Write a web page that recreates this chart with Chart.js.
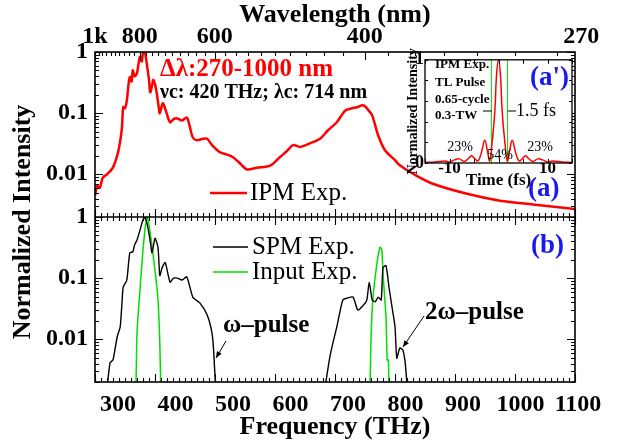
<!DOCTYPE html>
<html>
<head>
<meta charset="utf-8">
<script src="https://cdn.jsdelivr.net/npm/chart.js@4.4.0/dist/chart.umd.min.js"></script>
<style>
body{margin:0;background:#fff;}
#wrap{position:relative;width:620px;height:443px;}
#main{position:absolute;left:0;top:0;}
#inset{position:absolute;left:398px;top:48px;}
</style>
</head>
<body>
<div id="wrap">
<canvas id="main" width="620" height="443"></canvas>
<canvas id="inset" width="182" height="148"></canvas>
</div>
<script>
// ---- data ----
// (a) IPM spectrum, frequency in THz
var ipmFreq = [300,304,308,313,320,330,338,342,345,347,350,353,356,358,361,363,366,370,372,375,378,380,383,387,390,392,395,397,400,403,406,408,413,418,425,431,437,445,453,458,463,470,480,487,495,508,520,530,542,553,570,592,608,620,630,642,658,675,688,703,717,728,737,745,750,756,762,772,783,800,808,830,863,920,975,1030,1100];
var ipmVal  = [0.0045,0.0065,0.006,0.0088,0.01,0.013,0.022,0.035,0.059,0.125,0.12,0.16,0.30,0.39,0.33,0.50,0.40,0.45,0.6,0.83,0.7,0.96,1.0,0.57,0.35,0.22,0.28,0.35,0.3,0.21,0.13,0.10,0.145,0.11,0.071,0.08,0.082,0.076,0.085,0.06,0.040,0.036,0.038,0.038,0.03,0.023,0.021,0.019,0.015,0.012,0.0128,0.0138,0.019,0.024,0.030,0.028,0.032,0.038,0.052,0.071,0.11,0.12,0.125,0.135,0.13,0.11,0.092,0.043,0.025,0.017,0.014,0.0102,0.0070,0.0048,0.0037,0.0032,0.0027];

// (b) SPM spectrum (omega and 2 omega parts)
var spmFreq = [318,325,330,337,342,345,347,353,358,363,366,370,375,380,383,388,392,395,400,405,408,412,417,425,431,437,445,453,463,475,487,495,498,502,
               590,
               680,692,703,713,720,730,738,745,753,757,762,767,772,777,780,785,790,795,800,803,808,813,817,822];
var spmVal  = [0.001,0.0041,0.0046,0.011,0.016,0.04,0.071,0.093,0.26,0.27,0.35,0.42,0.61,0.9,1.0,0.69,0.4,0.26,0.45,0.32,0.11,0.15,0.18,0.086,0.1,0.10,0.093,0.105,0.049,0.039,0.025,0.0126,0.0059,0.001,
               null,
               0.001,0.0055,0.016,0.044,0.047,0.049,0.030,0.034,0.044,0.086,0.044,0.041,0.049,0.044,0.15,0.16,0.071,0.034,0.016,0.0049,0.0072,0.0067,0.0041,0.001];

// (b) input spectrum
var inFreq = [368,370,375,380,384,387,392,400,405,408,410, 590, 758,760,763,770,775,778,780,785,787,789,790];
var inVal  = [0.001,0.0126,0.064,0.29,0.7,1.0,0.55,0.135,0.044,0.0087,0.001, null, 0.001,0.0097,0.044,0.177,0.32,0.29,0.12,0.023,0.0046,0.0046,0.001];

// axes
var freqTicks = [300,400,500,600,700,800,900,1000,1100];
var wlTicks = [1000,800,600,400,270];
var wlLabels = ['1k','800','600','400','270'];

// (a') transform-limited pulse, time in fs
var tlTime = [-15,-13,-11,-10,-9,-8,-7,-6,-5.5,-5,-4.2,-3.5,-2.8,-2.2,-1.8,-1.3,-0.75,-0.4,0,0.4,0.75,1.3,1.8,2.2,2.8,3.5,4.2,5,5.5,6,7,8,9,10,11,13,15];
var tlVal  = [0.005,0.01,0.02,0.01,0.03,0.04,0.015,0.05,0.07,0.05,0.02,0.1,0.22,0.1,0.02,0.2,0.5,0.85,1.0,0.85,0.5,0.2,0.02,0.1,0.22,0.1,0.02,0.05,0.07,0.05,0.015,0.04,0.03,0.01,0.02,0.01,0.005];
var gateTime = [-1.45, 1.85];

var C = 299792.458; // nm*THz
var SERIF = "'Liberation Serif', serif";
Chart.defaults.font.family = SERIF;
Chart.defaults.color = '#000';

function pts(xs, ys){ return xs.map(function(x,i){ return {x:x, y:ys[i]}; }); }
function fixW(w){ return function(s){ s.width = w; }; }
function fixH(h){ return function(s){ s.height = h; }; }
function isDecade(v){ var l = Math.log10(v); return Math.abs(l - Math.round(l)) < 1e-6; }
function decadeLabel(v){
  if (!isDecade(v)) return '';
  var e = Math.round(Math.log10(v));
  return e >= 0 ? '1' : v.toFixed(-e);
}
function logAxis(){
  return {
    type:'logarithmic', position:'left', stack:'panels', stackWeight:1,
    min:0.002, max:1,
    grid:{display:false, drawTicks:false}, border:{display:false},
    ticks:{autoSkip:false, padding:7, font:{size:24, weight:'bold'}, callback:decadeLabel},
    afterFit: fixW(95)
  };
}

function arrow(ctx, x1, y1, x2, y2){
  var a = Math.atan2(y2-y1, x2-x1), h = 7;
  ctx.beginPath(); ctx.moveTo(x1,y1); ctx.lineTo(x2,y2); ctx.stroke();
  ctx.beginPath();
  ctx.moveTo(x2,y2);
  ctx.lineTo(x2 - h*Math.cos(a-0.4), y2 - h*Math.sin(a-0.4));
  ctx.lineTo(x2 - h*Math.cos(a+0.4), y2 - h*Math.sin(a+0.4));
  ctx.closePath(); ctx.fill();
}
function txt(ctx, s, x, y, font, color){
  ctx.font = font; ctx.fillStyle = color || '#000';
  ctx.textAlign = 'left'; ctx.textBaseline = 'middle';
  ctx.fillText(s, x, y);
}
function seg(ctx, x1, y1, x2, y2){ ctx.moveTo(x1, y1); ctx.lineTo(x2, y2); }

var frame = {
  id:'frame',
  afterDraw: function(chart){
    var ctx = chart.ctx, a = chart.chartArea, sx = chart.scales.x;
    var yt = chart.scales.yTop, yb = chart.scales.yBot;
    var L = a.left, R = a.right, T = a.top, B = a.bottom, M = yt.bottom;
    ctx.save();
    ctx.strokeStyle = '#000000'; ctx.fillStyle = '#000000';

    // inward ticks
    ctx.lineWidth = 1.1;
    ctx.beginPath();
    for (var f = 300; f <= 1100; f += 10){
      var px = Math.round(sx.getPixelForValue(f)) + 0.5, len = (f % 100 === 0) ? 8 : 4;
      seg(ctx, px, B, px, B - len);
      seg(ctx, px, M, px, M - len);
      seg(ctx, px, M, px, M + len);
    }
    for (var w = 280; w <= 1000; w += 20){
      var pw = Math.round(sx.getPixelForValue(C/w)) + 0.5, lw = (w % 200 === 0) ? 8 : 4;
      seg(ctx, pw, T, pw, T + lw);
    }
    [yt, yb].forEach(function(s){
      for (var e = -3; e <= 0; e++){
        for (var m = 1; m <= 9; m++){
          var v = m*Math.pow(10, e);
          if (v < 0.002 - 1e-9 || v > 1 + 1e-9) continue;
          var py = Math.round(s.getPixelForValue(v)) + 0.5, l = (m === 1) ? 8 : 4;
          seg(ctx, L, py, L + l, py);
          seg(ctx, R, py, R - l, py);
        }
      }
    });
    ctx.stroke();

    // frame and panel divider
    ctx.lineWidth = 1.6;
    ctx.strokeRect(L, T, R - L, B - T);
    ctx.beginPath(); seg(ctx, L, M, R, M); ctx.stroke();

    // y title
    ctx.save();
    ctx.translate(23, (T + B)/2 + 5);
    ctx.rotate(-Math.PI/2);
    ctx.font = 'bold 26px ' + SERIF; ctx.textAlign = 'center'; ctx.textBaseline = 'middle';
    ctx.fillText('Normalized Intensity', 0, 0);
    ctx.restore();

    // panel (a) annotations
    txt(ctx, '\u0394\u03bb:270-1000 nm', 160, 70, 'bold 25px ' + SERIF, '#ff0000');
    txt(ctx, '\u03bdc: 420 THz; \u03bbc: 714 nm', 160, 93, 'bold 20px ' + SERIF);
    ctx.lineWidth = 2.5; ctx.strokeStyle = '#ff0000';
    ctx.beginPath(); seg(ctx, 210, 193, 247, 193); ctx.stroke();
    txt(ctx, 'IPM Exp.', 250, 193, '25px ' + SERIF);
    txt(ctx, '(a)', 528, 189, 'bold 27px ' + SERIF, '#1a1aee');

    // panel (b) annotations
    ctx.lineWidth = 1.5;
    ctx.strokeStyle = '#000000';
    ctx.beginPath(); seg(ctx, 213, 247, 248, 247); ctx.stroke();
    txt(ctx, 'SPM Exp.', 252, 247, '25px ' + SERIF);
    ctx.strokeStyle = '#00e000';
    ctx.beginPath(); seg(ctx, 213, 272, 248, 272); ctx.stroke();
    txt(ctx, 'Input Exp.', 252, 272, '25px ' + SERIF);
    txt(ctx, '(b)', 531, 246, 'bold 27px ' + SERIF, '#1a1aee');
    txt(ctx, '\u03c9\u2013pulse', 223, 326, 'bold 25px ' + SERIF);
    txt(ctx, '2\u03c9\u2013pulse', 425, 313, 'bold 25px ' + SERIF);
    ctx.strokeStyle = '#000000'; ctx.fillStyle = '#000000'; ctx.lineWidth = 1;
    arrow(ctx, 226, 341, 216, 358);
    arrow(ctx, 424, 316, 403, 347);
    ctx.restore();
  }
};

new Chart(document.getElementById('main'), {
  type:'line',
  data:{ datasets:[
    {label:'IPM Exp.', data:pts(ipmFreq, ipmVal), xAxisID:'x', yAxisID:'yTop',
     borderColor:'#ff0000', borderWidth:2.5, pointRadius:0, tension:0.3},
    {label:'SPM Exp.', data:pts(spmFreq, spmVal), xAxisID:'x', yAxisID:'yBot',
     borderColor:'#000000', borderWidth:1.4, pointRadius:0, tension:0.2, spanGaps:false},
    {label:'Input Exp.', data:pts(inFreq, inVal), xAxisID:'x', yAxisID:'yBot',
     borderColor:'#00e000', borderWidth:1.5, pointRadius:0, tension:0.2, spanGaps:false}
  ]},
  options:{
    responsive:false, animation:false, events:[],
    layout:{padding:{left:0, right:45, top:0, bottom:0}},
    plugins:{legend:{display:false}, tooltip:{enabled:false}},
    scales:{
      x:{type:'linear', min:300, max:1100, display:false},
      xl:{type:'linear', position:'bottom', min:260, max:1094.8,
          afterBuildTicks:function(s){ s.ticks = freqTicks.map(function(v){ return {value:v}; }); },
          grid:{display:false, drawTicks:false}, border:{display:false},
          ticks:{autoSkip:false, maxRotation:0, padding:8, font:{size:24, weight:'bold'},
                 callback:function(v){ return String(v); }},
          title:{display:true, text:'Frequency (THz)', font:{size:26, weight:'bold'}, padding:{top:0, bottom:0}},
          afterFit: fixH(61)},
      xw:{type:'linear', position:'top', min:300, max:1100,
          afterBuildTicks:function(s){ s.ticks = wlTicks.map(function(w){ return {value:C/w}; }); },
          grid:{display:false, drawTicks:false}, border:{display:false},
          ticks:{autoSkip:false, maxRotation:0, padding:1, font:{size:24, weight:'bold'},
                 callback:function(v, i){ return wlLabels[i]; }},
          title:{display:true, text:'Wavelength (nm)', font:{size:26, weight:'bold'}, padding:{top:0, bottom:0}},
          afterFit: fixH(52)},
      // left boxes are laid out in reverse order: yTop (listed last) sits on top
      yBot: logAxis(),
      yTop: logAxis()
    }
  },
  plugins:[frame]
});

// ---- inset (a') ----
var insetDeco = {
  id:'insetDeco',
  beforeDatasetsDraw: function(chart){
    var ctx = chart.ctx, a = chart.chartArea;
    ctx.save(); ctx.fillStyle = '#fff';
    ctx.fillRect(a.left, a.top, a.right-a.left, a.bottom-a.top);
    ctx.restore();
  },
  afterDraw: function(chart){
    var ctx = chart.ctx, a = chart.chartArea, sx = chart.scales.x, sy = chart.scales.y;
    ctx.save();
    ctx.strokeStyle = '#000000'; ctx.fillStyle = '#000000'; ctx.lineWidth = 1;
    ctx.beginPath();
    for (var t = -15; t <= 15; t += 5){
      var px = Math.round(sx.getPixelForValue(t)) + 0.5;
      seg(ctx, px, a.bottom, px, a.bottom - 4);
      seg(ctx, px, a.top, px, a.top + 4);
    }
    for (var v = 0; v <= 1.001; v += 0.2){
      var py = Math.round(sy.getPixelForValue(v)) + 0.5;
      seg(ctx, a.left, py, a.left + 3, py);
      seg(ctx, a.right, py, a.right - 3, py);
    }
    ctx.stroke();
    ctx.lineWidth = 1.3;
    ctx.strokeRect(a.left, a.top, a.right-a.left, a.bottom-a.top);
    var bf = 'bold 13px ' + SERIF;
    txt(ctx, 'IPM Exp.', 37, 17, bf);
    txt(ctx, 'TL Pulse', 37, 35, bf);
    txt(ctx, '0.65-cycle', 37, 52, bf);
    txt(ctx, '0.3-TW', 37, 68, bf);
    ctx.lineWidth = 1;
    ctx.beginPath();
    seg(ctx, 85, 63, 94, 63);
    seg(ctx, 110, 63, 118, 63);
    ctx.stroke();
    txt(ctx, '1.5 fs', 118, 63, '18px ' + SERIF);
    txt(ctx, "(a')", 132, 30, 'bold 27px ' + SERIF, '#1a1aee');
    ctx.textAlign = 'center';
    ctx.font = '14px ' + SERIF; ctx.fillStyle = '#000';
    ctx.fillText('23%', 62, 99);
    ctx.fillText('54%', 102, 107);
    ctx.fillText('23%', 142, 99);
    ctx.restore();
  }
};

new Chart(document.getElementById('inset'), {
  type:'line',
  data:{ datasets:[
    {data:pts(tlTime, tlVal), borderColor:'#ff0000', borderWidth:1.5, pointRadius:0, tension:0.4},
    {data:[{x:gateTime[0], y:0}, {x:gateTime[0], y:1}], borderColor:'#00e000', borderWidth:1, pointRadius:0},
    {data:[{x:gateTime[1], y:0}, {x:gateTime[1], y:1}], borderColor:'#00e000', borderWidth:1, pointRadius:0}
  ]},
  options:{
    responsive:false, animation:false, events:[],
    layout:{padding:{top:8, right:8, left:0, bottom:0}},
    plugins:{legend:{display:false}, tooltip:{enabled:false}},
    scales:{
      x:{type:'linear', min:-15, max:15,
         afterBuildTicks:function(s){ s.ticks = [{value:-10}, {value:10}]; },
         grid:{display:false, drawTicks:false}, border:{display:false},
         ticks:{autoSkip:false, maxRotation:0, padding:-5, font:{size:17, weight:'bold'}},
         title:{display:true, text:'Time (fs)', font:{size:17, weight:'bold'}, padding:{top:0, bottom:5}},
         afterFit: fixH(33)},
      y:{type:'linear', min:0, max:1,
         afterBuildTicks:function(s){ s.ticks = [{value:0}, {value:1}]; },
         grid:{display:false, drawTicks:false}, border:{display:false},
         ticks:{autoSkip:false, padding:1, font:{size:18, weight:'bold'}},
         title:{display:true, text:'Normalized Intensity', font:{size:14, weight:'bold'}, padding:{top:7, bottom:0}},
         afterFit: fixW(27)}
    }
  },
  plugins:[insetDeco]
});
</script>
</body>
</html>
